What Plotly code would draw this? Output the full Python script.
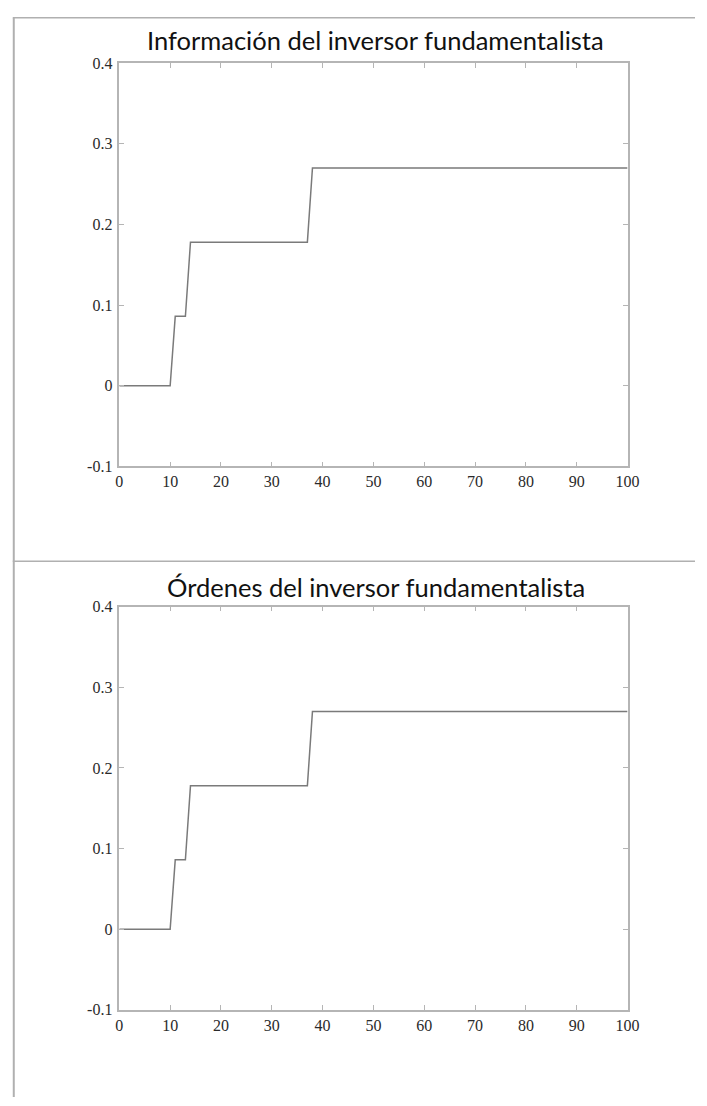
import plotly.graph_objects as go

W, H = 707, 1106

# data (time, value) breakpoints of the piecewise-linear path
t_info = [0, 10, 11, 13, 14, 37, 38, 100]
v_info = [0, 0, 0.086, 0.086, 0.178, 0.178, 0.27, 0.27]
t_ord = [0, 10, 11, 13, 14, 37, 38, 100]
v_ord = [0, 0, 0.086, 0.086, 0.178, 0.178, 0.27, 0.27]

titles = ["Información del inversor fundamentalista", "Órdenes del inversor fundamentalista"]
x_ticks = [0, 10, 20, 30, 40, 50, 60, 70, 80, 90, 100]
y_ticks = [-0.1, 0, 0.1, 0.2, 0.3, 0.4]
y_ticktext = ["-0.1", "0", "0.1", "0.2", "0.3", "0.4"]

# pixel layout
plot_x0, plot_x1 = 118, 638
panels_px = [(56, 465.5), (608, 1017.5)]
title_y_px = [33, 588]

def py(p):
    return 1 - p / H

fig = go.Figure()
tick_font = dict(family="Liberation Serif", size=16, color="#2a2a2a")
frame = "#b5b5b5"

for i, (t, v) in enumerate([(t_info, v_info), (t_ord, v_ord)]):
    xa = "x" if i == 0 else "x2"
    ya = "y" if i == 0 else "y2"
    fig.add_trace(go.Scatter(x=t, y=v, mode="lines", xaxis=xa, yaxis=ya,
                             line=dict(color="#7a7a7a", width=1.5), showlegend=False,
                             hoverinfo="skip"))
    top, bot = panels_px[i]
    axkey = "" if i == 0 else "2"
    fig.update_layout(**{
        "xaxis" + axkey: dict(domain=[plot_x0 / W, plot_x1 / W], range=[0, 100],
                              anchor=ya, tickvals=x_ticks, ticks="inside", ticklen=5,
                              tickcolor=frame, showline=True, linecolor=frame, linewidth=1.5,
                              mirror="ticks", showgrid=False, zeroline=False,
                              tickfont=tick_font, fixedrange=True),
        "yaxis" + axkey: dict(domain=[py(bot), py(top)], range=[-0.1, 0.4],
                              anchor=xa, tickvals=y_ticks, ticktext=y_ticktext,
                              ticks="inside", ticklen=5, tickcolor=frame, showline=True,
                              linecolor=frame, linewidth=1.5, mirror="ticks",
                              showgrid=False, zeroline=False, tickfont=tick_font,
                              ticklabelstandoff=2, fixedrange=True),
    })
    fig.add_annotation(text=titles[i], xref="paper", yref="paper",
                       x=(plot_x0 + plot_x1) / 2 / W + 0.003, y=py(title_y_px[i]),
                       xanchor="center", yanchor="middle", showarrow=False,
                       font=dict(family="Lato", size=25.5, color="#111111"))

# outer frame lines
line_col = "#b0b0b0"
fig.add_shape(type="line", xref="paper", yref="paper", x0=9 / W, x1=1, y0=py(10), y1=py(10),
              line=dict(color=line_col, width=1.5))
fig.add_shape(type="line", xref="paper", yref="paper", x0=10 / W, x1=10 / W, y0=py(10), y1=0,
              line=dict(color=line_col, width=2))
fig.add_shape(type="line", xref="paper", yref="paper", x0=9 / W, x1=1, y0=py(562), y1=py(562),
              line=dict(color=line_col, width=1.5))

fig.update_layout(width=W, height=H, margin=dict(l=0, r=0, t=0, b=0),
                  paper_bgcolor="white", plot_bgcolor="white")

fig.write_html("out.html", config={"displayModeBar": False},
               post_script="document.body.style.margin='0px';"
                           "document.body.style.overflow='hidden';"
                           "document.documentElement.style.overflow='hidden';")
